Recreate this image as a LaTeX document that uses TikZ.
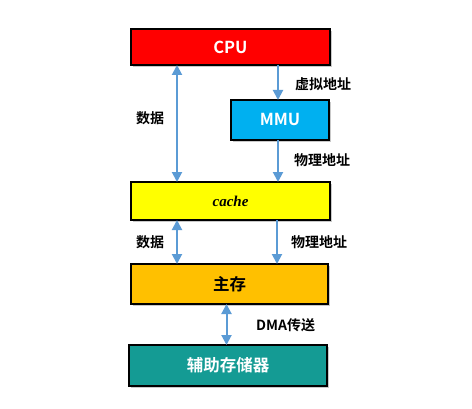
\documentclass[tikz,border=0pt]{standalone}
\usepackage{fontspec}
\setmainfont{Noto Sans CJK SC}[BoldFont={* Bold}]
\newfontfamily\cjkb{Noto Sans CJK SC Bold}
\newfontfamily\serifit{Liberation Serif}
\usetikzlibrary{arrows.meta,shadows}
\definecolor{cpured}{RGB}{255,0,0}
\definecolor{mmublue}{RGB}{0,176,240}
\definecolor{cacheyel}{RGB}{255,255,0}
\definecolor{mainorange}{RGB}{255,192,0}
\definecolor{auxteal}{RGB}{20,155,148}
\definecolor{arrowblue}{RGB}{91,155,213}
\begin{document}
\begin{tikzpicture}[x=1pt,y=1pt,
  box/.style={draw=black,line width=2pt,minimum height=#1,inner sep=0pt,font=\cjkb\fontsize{16.5}{18}\selectfont,
    drop shadow={shadow xshift=2pt,shadow yshift=-2pt,opacity=0.35,fill=black!60}},
  lab/.style={font=\cjkb\fontsize{14}{16}\selectfont,inner sep=0pt},
  conn/.style={draw=arrowblue,line width=2pt,-{Triangle[length=10pt,width=10pt]}},
  dconn/.style={draw=arrowblue,line width=2pt,{Triangle[length=10pt,width=10pt]}-{Triangle[length=10pt,width=10pt]}}]
\useasboundingbox (0,0) rectangle (472,408);
\fill[white] (0,0) rectangle (472,408);
% boxes (y = 408 - pixel y)
\node[box=36pt,fill=cpured,text=white,minimum width=199pt] (cpu) at (230.5,361) {CPU};
\node[box=40pt,fill=mmublue,text=white,minimum width=98pt] (mmu) at (280,288) {MMU};
\node[box=38pt,fill=cacheyel,text=black,minimum width=199pt] (cache) at (230.5,207) {\serifit\fontsize{15}{17}\selectfont\bfseries\itshape cache};
\node[box=40pt,fill=mainorange,text=black,minimum width=197pt] (mem) at (229.5,124) {主存};
\node[box=41pt,fill=auxteal,text=white,minimum width=198pt] (aux) at (228,42.5) {辅助存储器};
% anchor coordinates
\coordinate (cpuL) at (177,343);
\coordinate (cacheLT) at (177,226);
\coordinate (cpuR) at (278,343);
\coordinate (mmuT) at (278,308);
\coordinate (mmuB) at (278,268);
\coordinate (cacheRT) at (278,226);
\coordinate (cacheLB) at (177,188);
\coordinate (memLT) at (177,144);
\coordinate (cacheRB) at (277,188);
\coordinate (memRT) at (277,144);
\coordinate (memB) at (226.5,104);
\coordinate (auxT) at (226.5,63);
% connectors
\draw[dconn] (cpuL) -- (cacheLT);
\draw[conn] (cpuR) -- (mmuT);
\draw[conn] (mmuB) -- (cacheRT);
\draw[dconn] (cacheLB) -- (memLT);
\draw[conn] (cacheRB) -- (memRT);
\draw[dconn] (memB) -- (auxT);
% labels
\node[lab,anchor=west] (l1) at (295,324) {虚拟地址};
\node[lab] (l2) at (150,290) {数据};
\node[lab,anchor=west] (l3) at (294,248) {物理地址};
\node[lab] (l4) at (150,166) {数据};
\node[lab,anchor=west] (l5) at (291,166) {物理地址};
\node[lab,anchor=west] (l6) at (256,83) {DMA传送};
\end{tikzpicture}
\end{document}
